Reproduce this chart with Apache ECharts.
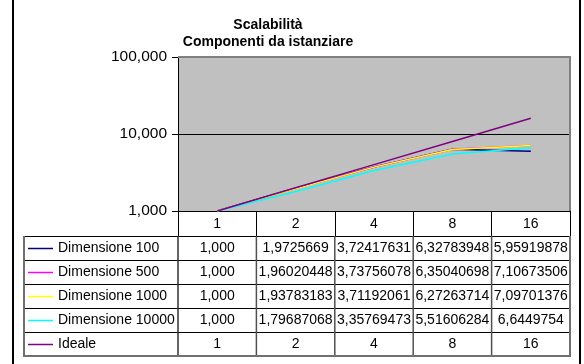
<!DOCTYPE html>
<html>
<head>
<meta charset="utf-8">
<script src="https://cdn.jsdelivr.net/npm/echarts@6/dist/echarts.min.js"></script>
<style>
  html, body { margin: 0; padding: 0; background: #ffffff; }
  #chart { width: 584px; height: 364px; }
</style>
</head>
<body>
<div id="chart"></div>
<script>
// Scalability measurements: speed-up per number of processors
const categories = ['1', '2', '4', '8', '16'];
const dim100   = [1.000, 1.9725669, 3.72417631, 6.32783948, 5.95919878];
const dim500   = [1.000, 1.96020448, 3.73756078, 6.35040698, 7.10673506];
const dim1000  = [1.000, 1.93783183, 3.71192061, 6.27263714, 7.09701376];
const dim10000 = [1.000, 1.79687068, 3.35769473, 5.51606284, 6.6449754];
const ideale   = [1, 2, 4, 8, 16];
const yMin = 1;
const yMax = 100;

const seriesDefs = [
  { name: 'Dimensione 100',   data: dim100,   color: '#000080', fixedFirst: true },
  { name: 'Dimensione 500',   data: dim500,   color: '#FF00FF', fixedFirst: true },
  { name: 'Dimensione 1000',  data: dim1000,  color: '#FFFF00', fixedFirst: true },
  { name: 'Dimensione 10000', data: dim10000, color: '#00FFFF', fixedFirst: true },
  { name: 'Ideale',           data: ideale,   color: '#800080', fixedFirst: false }
];

const FONT = "'Liberation Sans', Arial, sans-serif";

// Italian-style number text (decimal comma)
function cellText(def, i) {
  const v = def.data[i];
  if (def.fixedFirst && i === 0) return v.toFixed(3).replace('.', ',');
  return String(v).replace('.', ',');
}

const chart = echarts.init(document.getElementById('chart'), null, { renderer: 'canvas' });

chart.setOption({
  animation: false,
  backgroundColor: '#ffffff',
  title: {
    text: 'Scalabilità\nComponenti da istanziare',
    left: 263,
    top: 12,
    textAlign: 'center',
    textStyle: { fontFamily: FONT, fontSize: 14, fontWeight: 'bold', color: '#000', lineHeight: 17 }
  },
  grid: { left: 178, right: 14, top: 57, bottom: 153, show: true, backgroundColor: '#C0C0C0', borderWidth: 0 },
  xAxis: {
    type: 'category',
    data: categories,
    boundaryGap: true,
    axisLine: { show: true, lineStyle: { color: '#000', width: 1 } },
    axisTick: { show: true, interval: 0, length: 25, lineStyle: { color: '#000', width: 1 } },
    axisLabel: { interval: 0, margin: 6, fontFamily: FONT, fontSize: 14, color: '#000' },
    splitLine: { show: false }
  },
  yAxis: {
    type: 'log',
    logBase: 10,
    min: yMin,
    max: yMax,
    axisLine: { show: true, lineStyle: { color: '#000', width: 1 } },
    axisTick: { show: true, length: 6, lineStyle: { color: '#000' } },
    axisLabel: {
      margin: 11,
      fontFamily: FONT,
      fontSize: 15.5,
      color: '#000',
      formatter: v => Number(v).toFixed(3).replace('.', ',')
    },
    splitLine: { show: true, lineStyle: { color: '#000', width: 1 } }
  },
  series: seriesDefs.map(d => ({
    name: d.name,
    type: 'line',
    data: d.data,
    symbol: 'none',
    smooth: false,
    lineStyle: { color: d.color, width: 1.5 },
    itemStyle: { color: d.color }
  }))
});

// Plot frame and data table, laid out from the axis geometry
function buildGraphics() {
  const n = categories.length;
  const c0 = chart.convertToPixel({ xAxisIndex: 0 }, 0);
  const c1 = chart.convertToPixel({ xAxisIndex: 0 }, 1);
  const step = c1 - c0;
  const left = c0 - step / 2;
  const right = left + step * n;
  const yTop = chart.convertToPixel({ yAxisIndex: 0 }, yMax);
  const yBot = chart.convertToPixel({ yAxisIndex: 0 }, yMin);
  const rowH = 24;
  const tableTop = yBot + 25;
  const tableLeft = 24;
  const tableBottom = tableTop + rowH * seriesDefs.length;

  const els = [];
  // outer chart border
  els.push({ type: 'rect', shape: { x: 13, y: -2, width: 567, height: 370 },
    style: { fill: null, stroke: '#000', lineWidth: 2 }, z: 100 });
  // plot frame (top and right)
  els.push({ type: 'polyline', shape: { points: [[left, yTop], [right, yTop], [right, yBot]] },
    style: { fill: null, stroke: '#808080', lineWidth: 2 }, z: 100 });

  // row separators
  for (let r = 0; r < seriesDefs.length; r++) {
    const y = Math.round(tableTop + r * rowH) + 0.5;
    els.push({ type: 'line', shape: { x1: tableLeft, y1: y, x2: right, y2: y },
      style: { stroke: '#000', lineWidth: 1 }, z: 90 });
  }
  // column separators in the data rows
  for (let c = 1; c < n; c++) {
    const x = left + c * step;
    els.push({ type: 'line', shape: { x1: x, y1: tableTop, x2: x, y2: tableBottom },
      style: { stroke: '#505050', lineWidth: 1.5 }, z: 90 });
  }
  els.push({ type: 'line', shape: { x1: left, y1: tableTop, x2: left, y2: tableBottom },
    style: { stroke: '#303030', lineWidth: 1.5 }, z: 90 });
  // table outline
  els.push({ type: 'polyline',
    shape: { points: [[tableLeft, tableTop], [tableLeft, tableBottom], [right, tableBottom], [right, tableTop]] },
    style: { fill: null, stroke: '#707070', lineWidth: 2 }, z: 91 });

  seriesDefs.forEach((d, r) => {
    const cy = tableTop + r * rowH + rowH / 2 + 0.5;
    els.push({ type: 'line', shape: { x1: 28, y1: cy, x2: 53, y2: cy },
      style: { stroke: d.color, lineWidth: 1.5 }, z: 95 });
    els.push({ type: 'text', x: 58, y: cy,
      style: { text: d.name, font: '14px ' + FONT, fill: '#000', textAlign: 'left', textVerticalAlign: 'middle' }, z: 95 });
    for (let i = 0; i < n; i++) {
      const cx = chart.convertToPixel({ xAxisIndex: 0 }, i);
      els.push({ type: 'text', x: cx, y: cy,
        style: { text: cellText(d, i), font: '14px ' + FONT, fill: '#000', textAlign: 'center', textVerticalAlign: 'middle' }, z: 95 });
    }
  });

  chart.setOption({ graphic: { elements: els } });
}
buildGraphics();
</script>
</body>
</html>
